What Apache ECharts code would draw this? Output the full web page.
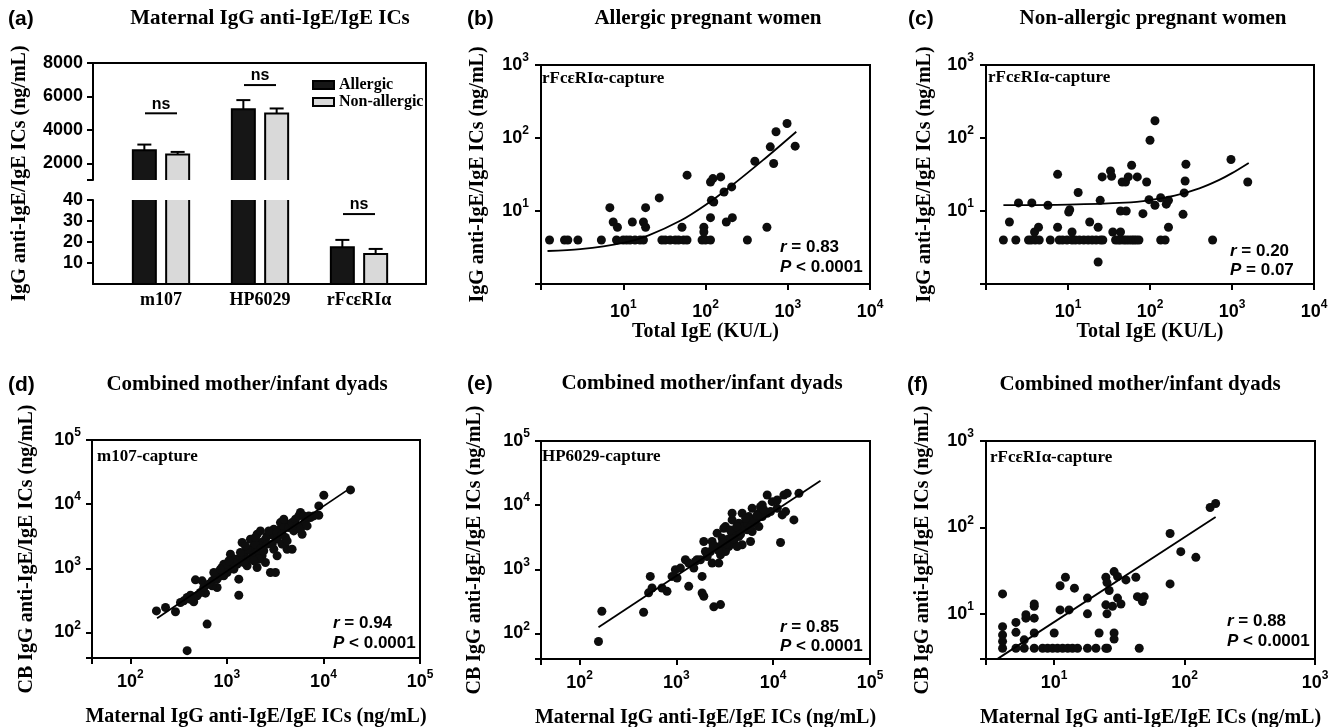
<!DOCTYPE html>
<html><head><meta charset="utf-8">
<script src="https://cdn.jsdelivr.net/npm/echarts@6.0.0/dist/echarts.min.js"></script>
<style>html,body{margin:0;padding:0;background:#fff}#chart{width:1344px;height:727px}</style>
</head><body><div id="chart"></div>
<script>
// ---------------- DATA ----------------
const barCategories = ['m107', 'HP6029', 'rFcεRIα'];
const allergicMean = [2780, 5240, 17.5];
const allergicSem = [340, 540, 3.5];
const nonAllergicMean = [2520, 4980, 14.3];
const nonAllergicSem = [160, 300, 2.4];
const nsLevel = [4990, 6680, 33.3];

// (b) Allergic pregnant women: [Total IgE, IgG anti-IgE/IgE ICs]
const bPoints = [
[1.27,4],[1.93,4],[2.12,4],[2.81,4],[5.42,4],[8.28,4],[10,4],[11,4],[12.1,4],[13.9,4],[16,4],[17.6,4],[29.5,4],[32.4,4],[37.2,4],[42.9,4],[47.1,4],[54.2,4],[59.6,4],[90.8,4],[100,4],[115,4],[323,4],
[6.87,11.1],[7.55,7.06],[8.5,6.0],[12.9,7.06],[17.6,7.06],[18.7,11.1],[18.7,6.0],[27.4,15.1],[59.7,31],[51.8,6.0],[95.5,6.0],[95.5,5.15],[115,8.1],[115,25],[118,14],[123,27.8],[126,13.3],[153,29.3],[168,18.2],[179,7.06],[208,21.4],[212,8.1],[398,48],[558,6.0],[613,75.7],[674,44.7],[720,122],[981,158],[1230,77.3]
];
const bFit = [[1.2,2.83],[3,3.0],[10,3.66],[20,4.6],[50,7.4],[100,12.1],[200,21.5],[500,49.7],[1270,122]];

// (c) Non-allergic pregnant women
const cPoints = [
[1.63,4],[2.31,4],[3.3,4],[3.56,4],[3.98,4],[4.46,4],[6.08,4],[7.83,4],[8.6,4],[9.72,4],[11.2,4],[12.3,4],[13.8,4],[15.6,4],[17.6,4],[19.7,4],[22,4],[24.9,4],[26.6,4],[38,4],[41,4],[43.7,4],[48,4],[51.3,4],[55.3,4],[59.7,4],[63.7,4],[68,4],[73.3,4],[135,4],[153,4],[580,4],
[1.93,7.06],[2.49,12.9],[3.62,12.9],[3.91,5.15],[4.37,6.0],[5.69,12],[7.47,31.8],[7.47,6.0],[10.5,10.4],[10.2,9.7],[11.2,5.15],[13.3,17.9],[18.4,7.06],[23.3,6.0],[23.3,2.0],[24.7,14],[26.1,29.3],[33,35.4],[34,29.9],[35.2,5.15],[43.7,5.15],[43.7,10],[45.8,25],[50.3,25],[51.3,10],[54.3,29.3],[59.7,42.4],[70,29.3],[82,9.2],[91,25],[100,93.3],[97.3,14.3],[115,172],[115,12],[135,15.2],[158,12.4],[168,14],[168,6],[253,9],[261,17.7],[268,25.8],[274,43.7],[972,50.7],[1556,25]
];
const cFit = [[1.63,12.0],[10,12.2],[50,13.0],[100,14.1],[200,16.2],[400,20.4],[700,26.7],[1000,33],[1600,45.6]];

// (d) m107-capture: [maternal, cord blood]
const dPoints = [
[186,217],[231,245],[293,210],[387,52],[623,135],[1327,381],[387,351],[419,381],[453,300],[472,661],[553,638],[599,410],[702,638],[791,502],[823,881],[891,1029],[927,1159],[1087,1660],[1087,1159],[1327,677],[1436,2522],[1494,1660],[1380,1421],[1617,1092],[2053,1029],[2053,3400],[2505,1231],[2822,860],[3180,860],[3309,1563],[4201,1986],[4733,1986],[6008,3400],[6252,4865],[7329,6185],[8949,6723],[8949,9390],[10080,13770],[19050,16670],[7935,6562],[5774,7400],[5125,4865],[4201,4865],[3583,4068],[3056,4068],[2606,3203],[2223,2522],[1897,2239],[1752,1871],[1617,1986],[1225,1387],[1045,969],[965,1092],[857,763],[760,763],[702,533],[491,372],[531,420],[357,311],[330,293],[1752,2843],[1973,2377],[2223,1986],[2505,2843],[2822,3400],[3056,3203],[3309,2843],[3583,5165],[3880,4320],[4371,4320],[4733,5165],[5125,5830],[5333,4585],[5549,6562],[6252,6562],[6505,5490],[7043,6562],[2606,2377],[2937,2377],[2313,1563],[2053,1762],[1823,1472],[1683,1387],[1494,1231],[1275,1159],[1178,969],[1004,860],[927,763],[791,677],[1380,1762],[1554,2239],[1973,3017],[2223,3832],[2712,3832],[3309,3610],[3728,3400],[4037,3017],[3056,1986],[3728,2377],[2407,1871],[2137,1387],[1897,1306],[1178,1231],[1045,1306],[648,566],[575,502],[731,860],[857,969],[419,330],[4201,2677],[4925,3832],[5774,4068],[6769,4585],[3880,5830]
];
const dFit = [[189,167],[17500,16400]];

// (e) HP6029-capture
const ePoints = [
[157,75],[170,222],[459,214],[538,776],[561,512],[517,430],[711,512],[801,454],[903,776],[977,986],[1101,1046],[1240,1409],[1342,543],[1574,1328],[1638,1409],[1845,776],[1845,428],[1920,380],[1996,1897],[1920,2711],[2437,260],[2858,282],[2341,1250],[2744,1250],[2249,1897],[2535,2269],[2972,3055],[3091,4366],[3767,5888],[4083,4121],[3483,2269],[3920,2711],[4416,3243],[4784,4366],[5176,5220],[5605,6633],[6067,8939],[6574,5888],[7119,7470],[7711,10060],[8677,14380],[9774,11350],[11010,8939],[11910,2618],[12900,14380],[13960,15270],[16370,5888],[18450,15270],[13430,7930],[12400,7040],[11010,12030],[8677,7470],[7119,4638],[6067,3883],[5834,2711],[4784,2410],[4246,2269],[3214,1897],[2858,1683],[2080,1585],[2636,3656],[3214,4638],[3767,3656],[4416,5220],[5383,4121],[6310,5220],[7711,6633],[9397,7930],[3767,7470],[4784,7470],[7396,9480],[2341,2711],[2972,2269],[1774,1409],[1514,1046],[1016,731],[1342,1250],
[3500,3000],[3300,2500],[4000,3300],[4500,4000],[5000,4700],[5500,5000],[6000,6000],[2700,2000],[3000,2600],[3600,4100],[4200,4600],[5200,6200],[6800,6900],[8000,8500],[2400,2300],[4600,3500],[5800,4500],[3900,3000]
];
const eFit = [[157,125],[30800,24000]];

// (f) rFcεRIα-capture
const fPoints = [
[4.02,4],[5.09,4],[5.89,4],[7.03,4],[8.15,4],[8.9,4],[9.72,4],[10.6,4],[11.6,4],[12.7,4],[13.8,4],[15.1,4],[18.0,4],[20.9,4],[24.9,4],[25.6,4],[44.9,4],
[4.02,4.8],[4.02,5.7],[4.02,7.1],[4.02,17.0],[5.09,6.1],[5.09,7.95],[5.89,5.0],[6.07,8.9],[6.07,9.75],[7.03,8.9],[7.03,12.2],[7.03,13.0],[7.03,6.0],[10,6.0],[11.1,11.1],[11.1,21.1],[12.2,26.5],[13,11.1],[14.3,19.8],[18,15.2],[18,10],[22.1,6.0],[24.9,26.5],[25.4,23],[26.4,18.6],[24.9,12.7],[25.4,10],[28.8,30.8],[30.6,27],[28,12.2],[30.6,15.2],[32.5,13.0],[28.8,6.0],[28.8,5.1],[35.5,24.7],[42.3,26.5],[43.5,15.8],[49,15.8],[47.5,13.9],[77.4,22.2],[77.4,85],[93.5,52.4],[122,45],[157,170],[173,189]
];
const fFit = [[3.7,3.03],[173,132]];

const panelLetters = ['(a)', '(b)', '(c)', '(d)', '(e)', '(f)'];
const panelTitles = ['Maternal IgG anti-IgE/IgE ICs', 'Allergic pregnant women', 'Non-allergic pregnant women',
  'Combined mother/infant dyads', 'Combined mother/infant dyads', 'Combined mother/infant dyads'];
const captureLabels = ['rFcεRIα-capture', 'rFcεRIα-capture', 'm107-capture', 'HP6029-capture', 'rFcεRIα-capture'];
const rValues = ['0.83', '0.20', '0.94', '0.85', '0.88'];
const pValues = ['< 0.0001', '= 0.07', '< 0.0001', '< 0.0001', '< 0.0001'];

// ---------------- STYLE / LAYOUT ----------------
const SERIF = '"Liberation Serif", "Times New Roman", serif';
const SANS = '"Liberation Sans", Arial, sans-serif';
const BLACK = '#000';
const ALLERGIC_FILL = '#161616';
const NONALLERGIC_FILL = '#d9d9d9';

const logRich = {
  b: { fontFamily: SANS, fontWeight: 'bold', fontSize: 18, color: BLACK },
  s: { fontFamily: SANS, fontWeight: 'bold', fontSize: 12, color: BLACK, padding: [0, 0, 14, 0] }
};
function logLabel(minVal) {
  return function (v) {
    if (v <= minVal * 1.0001) return '';
    const e = Math.log10(v);
    const r = Math.round(e);
    if (Math.abs(e - r) > 1e-6) return '';
    return '{b|10}{s|' + r + '}';
  };
}
const nameStyle = { fontFamily: SERIF, fontWeight: 'bold', fontSize: 20, color: BLACK };
const lineSt = { color: BLACK, width: 2 };

function logAxis(o) {
  return {
    type: 'log', logBase: 10, gridIndex: o.grid, min: o.min, max: o.max, position: o.position,
    name: o.name, nameLocation: 'middle', nameGap: o.nameGap, nameTextStyle: nameStyle,
    axisLine: { show: true, onZero: false, lineStyle: lineSt },
    axisTick: { show: true, inside: false, length: 6, lineStyle: lineSt },
    minorTick: { show: false }, splitLine: { show: false }, minorSplitLine: { show: false },
    axisLabel: { show: true, margin: o.margin, formatter: logLabel(o.min), rich: logRich, hideOverlap: false, showMinLabel: true, showMaxLabel: true }
  };
}
function frameAxis(grid, position) {
  return { type: 'value', gridIndex: grid, min: 0, max: 1, position: position,
    axisLine: { show: true, onZero: false, lineStyle: lineSt }, axisTick: { show: false },
    axisLabel: { show: false }, splitLine: { show: false } };
}
function plotGrid(l, t, w, h) {
  return { left: l, top: t, width: w, height: h, show: true, borderColor: BLACK, borderWidth: 2,
    backgroundColor: 'transparent', containLabel: false, outerBoundsMode: 'none' };
}

const grids = [
  { left: 93, top: 63, width: 333, height: 221, show: false, containLabel: false, outerBoundsMode: 'none' }, // (a) frame
  { left: 111.5, top: 63, width: 297, height: 117, show: false, containLabel: false, outerBoundsMode: 'none' }, // (a) top seg
  { left: 111.5, top: 200, width: 297, height: 84, show: false, containLabel: false, outerBoundsMode: 'none' }, // (a) bottom seg
  plotGrid(541, 65, 329, 219),
  plotGrid(986, 65, 328, 219),
  plotGrid(92, 440, 328, 218),
  plotGrid(541, 441, 329, 218),
  plotGrid(986, 441, 329, 218)
];

const barLabelStyle = { fontFamily: SERIF, fontWeight: 'bold', fontSize: 18, color: BLACK };
const tickLabelStyle = { fontFamily: SANS, fontWeight: 'bold', fontSize: 18, color: BLACK };
const plainNumber = function (v) { return String(v); };

const xAxes = [
  frameAxis(0, 'bottom'),
  frameAxis(0, 'top'),
  { type: 'category', gridIndex: 1, data: barCategories, show: false },
  { type: 'category', gridIndex: 2, data: barCategories, position: 'bottom',
    axisLine: { show: false }, axisTick: { show: false }, splitLine: { show: false },
    axisLabel: Object.assign({ margin: 7, interval: 0 }, barLabelStyle) },
  logAxis({ grid: 3, min: 1, max: 1e4, position: 'bottom', name: 'Total IgE (KU/L)', nameGap: 36, margin: 15 }),
  logAxis({ grid: 4, min: 1, max: 1e4, position: 'bottom', name: 'Total IgE (KU/L)', nameGap: 36, margin: 15 }),
  logAxis({ grid: 5, min: 40, max: 1e5, position: 'bottom', name: 'Maternal IgG anti-IgE/IgE ICs (ng/mL)', nameGap: 49, margin: 11 }),
  logAxis({ grid: 6, min: 40, max: 1e5, position: 'bottom', name: 'Maternal IgG anti-IgE/IgE ICs (ng/mL)', nameGap: 49, margin: 11 }),
  logAxis({ grid: 7, min: 3, max: 1e3, position: 'bottom', name: 'Maternal IgG anti-IgE/IgE ICs (ng/mL)', nameGap: 49, margin: 11 })
];

const yAxes = [
  frameAxis(0, 'right'),
  { type: 'value', gridIndex: 0, min: 0, max: 1, position: 'left',
    axisLine: { show: false }, axisTick: { show: false }, axisLabel: { show: false }, splitLine: { show: false },
    name: 'IgG anti-IgE/IgE ICs (ng/mL)', nameLocation: 'middle', nameGap: 63, nameTextStyle: nameStyle },
  { type: 'value', gridIndex: 1, min: 1000, max: 8000, position: 'left', offset: 18.5,
    axisLine: { show: true, onZero: false, lineStyle: lineSt },
    axisTick: { show: true, length: 6, lineStyle: lineSt, customValues: [1000, 2000, 4000, 6000, 8000] },
    axisLabel: Object.assign({ margin: 10, customValues: [2000, 4000, 6000, 8000], formatter: plainNumber }, tickLabelStyle),
    splitLine: { show: false } },
  { type: 'value', gridIndex: 2, min: 0, max: 40, position: 'left', offset: 18.5,
    axisLine: { show: true, onZero: false, lineStyle: lineSt },
    axisTick: { show: true, length: 6, lineStyle: lineSt, customValues: [10, 20, 30, 40] },
    axisLabel: Object.assign({ margin: 10, customValues: [10, 20, 30, 40], formatter: plainNumber }, tickLabelStyle),
    splitLine: { show: false } },
  logAxis({ grid: 3, min: 1, max: 1e3, position: 'left', name: 'IgG anti-IgE/IgE ICs (ng/mL)', nameGap: 53, margin: 12 }),
  logAxis({ grid: 4, min: 1, max: 1e3, position: 'left', name: 'IgG anti-IgE/IgE ICs (ng/mL)', nameGap: 51, margin: 12 }),
  logAxis({ grid: 5, min: 40, max: 1e5, position: 'left', name: 'CB IgG anti-IgE/IgE ICs (ng/mL)', nameGap: 55, margin: 11 }),
  logAxis({ grid: 6, min: 40, max: 1e5, position: 'left', name: 'CB IgG anti-IgE/IgE ICs (ng/mL)', nameGap: 56, margin: 11 }),
  logAxis({ grid: 7, min: 3, max: 1e3, position: 'left', name: 'CB IgG anti-IgE/IgE ICs (ng/mL)', nameGap: 53, margin: 12 })
];

// ---------------- SERIES ----------------
const BAR_W = 23, PAIR_OFF = 16.65;
function barRender(offset, fill) {
  return function (params, api) {
    const c = api.value(0);
    const top = api.coord([c, api.value(1)]);
    const base = api.coord([c, 0]);
    const x = top[0] + offset - BAR_W / 2;
    return { type: 'rect', shape: { x: x, y: top[1], width: BAR_W, height: base[1] - top[1] },
      style: { fill: fill, stroke: BLACK, lineWidth: 2 } };
  };
}
function errRender(offset) {
  return function (params, api) {
    const c = api.value(0);
    const base = api.coord([c, api.value(1)]);
    const top = api.coord([c, api.value(2)]);
    const x = base[0] + offset;
    return { type: 'group', children: [
      { type: 'line', shape: { x1: x, y1: base[1], x2: x, y2: top[1] }, style: { stroke: BLACK, lineWidth: 2 } },
      { type: 'line', shape: { x1: x - 7, y1: top[1], x2: x + 7, y2: top[1] }, style: { stroke: BLACK, lineWidth: 2 } }
    ] };
  };
}
function nsRender(params, api) {
  const p = api.coord([api.value(0), api.value(1)]);
  return { type: 'group', children: [
    { type: 'line', shape: { x1: p[0] - 16, y1: p[1], x2: p[0] + 16, y2: p[1] }, style: { stroke: BLACK, lineWidth: 2 } },
    { type: 'text', x: p[0], y: p[1] - 9, style: { text: 'ns', fill: BLACK, font: 'bold 16px ' + SANS,
      align: 'center', verticalAlign: 'middle', textAlign: 'center', textVerticalAlign: 'middle' } }
  ] };
}
const barA = allergicMean.map((m, i) => [i, m]);
const barN = nonAllergicMean.map((m, i) => [i, m]);
const errA = allergicMean.map((m, i) => [i, m, m + allergicSem[i]]);
const errN = nonAllergicMean.map((m, i) => [i, m, m + nonAllergicSem[i]]);
const nsData = barCategories.map((c, i) => [i, nsLevel[i]]);

const series = [];
[[2, 2], [3, 3]].forEach(function (ax) {
  series.push({ type: 'custom', name: 'Allergic', xAxisIndex: ax[0], yAxisIndex: ax[1], data: barA, encode: { x: 0, y: 1 },
    renderItem: barRender(-PAIR_OFF, ALLERGIC_FILL), clip: true, silent: true, itemStyle: { color: ALLERGIC_FILL } });
  series.push({ type: 'custom', name: 'Non-allergic', xAxisIndex: ax[0], yAxisIndex: ax[1], data: barN, encode: { x: 0, y: 1 },
    renderItem: barRender(PAIR_OFF, NONALLERGIC_FILL), clip: true, silent: true, itemStyle: { color: NONALLERGIC_FILL } });
  series.push({ type: 'custom', xAxisIndex: ax[0], yAxisIndex: ax[1], data: errA, encode: { x: 0, y: [1, 2] },
    renderItem: errRender(-PAIR_OFF), clip: true, silent: true, z: 3 });
  series.push({ type: 'custom', xAxisIndex: ax[0], yAxisIndex: ax[1], data: errN, encode: { x: 0, y: [1, 2] },
    renderItem: errRender(PAIR_OFF), clip: true, silent: true, z: 3 });
  series.push({ type: 'custom', xAxisIndex: ax[0], yAxisIndex: ax[1], data: nsData, encode: { x: 0, y: 1 },
    renderItem: nsRender, clip: true, silent: true, z: 3 });
});

const scatterSets = [[bPoints, bFit, 9], [cPoints, cFit, 9], [dPoints, dFit, 9], [ePoints, eFit, 9], [fPoints, fFit, 9]];
scatterSets.forEach(function (s, i) {
  series.push({ type: 'scatter', xAxisIndex: 4 + i, yAxisIndex: 4 + i, data: s[0], symbol: 'circle',
    symbolSize: s[2], itemStyle: { color: '#0d0d0d', opacity: 1 }, silent: true, clip: false });
  series.push({ type: 'line', xAxisIndex: 4 + i, yAxisIndex: 4 + i, data: s[1], showSymbol: false, symbol: 'none',
    smooth: s[1].length > 2 ? 0.3 : false, lineStyle: { color: BLACK, width: 1.8 }, silent: true, z: 3 });
});

// ---------------- TEXT ANNOTATIONS ----------------
const graphics = [];
function addText(x, y, text, font, align, rich) {
  const st = { text: text, font: font, fill: BLACK, align: align, verticalAlign: 'middle', textAlign: align, textVerticalAlign: 'middle' };
  if (rich) st.rich = rich;
  graphics.push({ type: 'text', x: x, y: y, silent: true, style: st });
}
const letterPos = [[8, 19], [467, 19], [908, 19], [8, 385], [467, 384], [907, 385]];
const titlePos = [[270, 19], [708, 19], [1153, 19], [247, 385], [702, 384], [1140, 385]];
panelLetters.forEach(function (t, i) { addText(letterPos[i][0], letterPos[i][1], t, 'bold 21px ' + SANS, 'left'); });
panelTitles.forEach(function (t, i) { addText(titlePos[i][0], titlePos[i][1], t, 'bold 21px ' + SERIF, 'center'); });
const capPos = [[542, 79], [988, 78], [97, 457], [542, 457], [990, 458]];
captureLabels.forEach(function (t, i) { addText(capPos[i][0], capPos[i][1], t, 'bold 17px ' + SERIF, 'left'); });
const statPos = [[780, 247, 267], [1230, 251, 270], [333, 623, 643], [780, 627, 646], [1227, 621, 641]];
const statRich = { i: { font: 'italic bold 17px ' + SANS, fill: BLACK } };
rValues.forEach(function (r, i) {
  addText(statPos[i][0], statPos[i][1], '{i|r} = ' + r, 'bold 17px ' + SANS, 'left', statRich);
  addText(statPos[i][0], statPos[i][2], '{i|P} ' + pValues[i], 'bold 17px ' + SANS, 'left', statRich);
});

const option = {
  animation: false,
  backgroundColor: '#fff',
  grid: grids,
  xAxis: xAxes,
  yAxis: yAxes,
  legend: {
    data: ['Allergic', 'Non-allergic'], orient: 'vertical', left: 312, top: 77, padding: 0,
    itemWidth: 21, itemHeight: 8, itemGap: 1, icon: 'rect', selectedMode: false,
    itemStyle: { borderColor: BLACK, borderWidth: 2 },
    textStyle: { fontFamily: SERIF, fontWeight: 'bold', fontSize: 16, color: BLACK }
  },
  series: series,
  graphic: { elements: graphics }
};
const chart = echarts.init(document.getElementById('chart'), null, { renderer: 'canvas' });
chart.setOption(option);
</script></body></html>
